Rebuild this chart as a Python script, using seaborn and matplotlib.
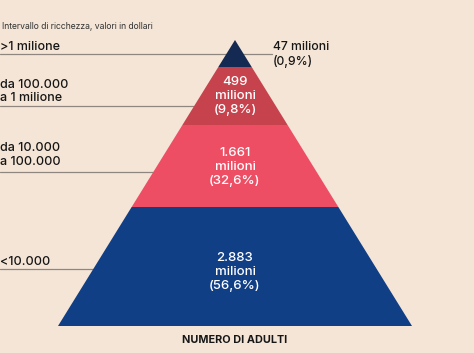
import matplotlib
matplotlib.use("Agg")
import matplotlib.pyplot as plt
import seaborn as sns
from matplotlib.patches import Polygon

# ---- data ----
categories = [">1 milione", "da 100.000\na 1 milione", "da 10.000\na 100.000", "<10.000"]
adults_millions = ["47", "499", "1.661", "2.883"]
shares = ["0,9%", "9,8%", "32,6%", "56,6%"]
title = "Intervallo di ricchezza, valori in dollari"
xlabel = "NUMERO DI ADULTI"

# ---- style / layout ----
colors = ["#142a52", "#c6434e", "#ee4e64", "#113f86"]
bg = "#f4e5d6"
band_bounds = [40, 67, 125, 207, 326]   # pixel rows of band edges (layout)
apex_x, half_base = 235, 177
line_rows = [54, 106, 172, 269]
label_rows = [46.5, 91.5, 155, 262]
value_rows = [None, 96, 167, 272]

sns.set_theme(style="white")
plt.rcParams["font.family"] = ["Inter", "DejaVu Sans"]

fig = plt.figure(figsize=(4.74, 3.53), dpi=100, facecolor=bg)
ax = fig.add_axes([0, 0, 1, 1])
ax.set_facecolor(bg)
ax.set_xlim(0, 474)
ax.set_ylim(353, 0)
ax.axis("off")

top, bottom = band_bounds[0], band_bounds[-1]
def hw(y):
    return (y - top) / (bottom - top) * half_base

# guide lines
for i, y in enumerate(line_rows):
    x_end = 272 if i == 0 else apex_x - hw(y)
    ax.plot([0, x_end], [y, y], color="#8f877f", lw=0.9, zorder=1)

# pyramid bands
for i in range(len(categories)):
    y0, y1 = band_bounds[i], band_bounds[i + 1]
    pts = [(apex_x - hw(y0), y0), (apex_x + hw(y0), y0),
           (apex_x + hw(y1), y1), (apex_x - hw(y1), y1)]
    ax.add_patch(Polygon(pts, closed=True, facecolor=colors[i], edgecolor="none", zorder=2))

# category labels
for cat, y in zip(categories, label_rows):
    ax.text(0, y, cat, ha="left", va="center", fontsize=9, color="#161616",
            fontweight="medium", linespacing=1.2, zorder=3)

# values
ax.text(273, 54, f"{adults_millions[0]} milioni\n({shares[0]})", ha="left", va="center",
        fontsize=8.8, color="#161616", fontweight="medium", linespacing=1.2, zorder=3)
for i in range(1, len(categories)):
    ax.text(apex_x, value_rows[i], f"{adults_millions[i]}\nmilioni\n({shares[i]})",
            ha="center", va="center", fontsize=9.5, color="white", fontweight="medium",
            linespacing=1.2, zorder=3)

ax.text(2, 26.5, title, ha="left", va="center", fontsize=6.2, color="#333333")
ax.text(apex_x, 340, xlabel, ha="center", va="center", fontsize=7.8, fontweight="bold",
        color="#161616")

fig.savefig("out.png", dpi=100, facecolor=bg)
